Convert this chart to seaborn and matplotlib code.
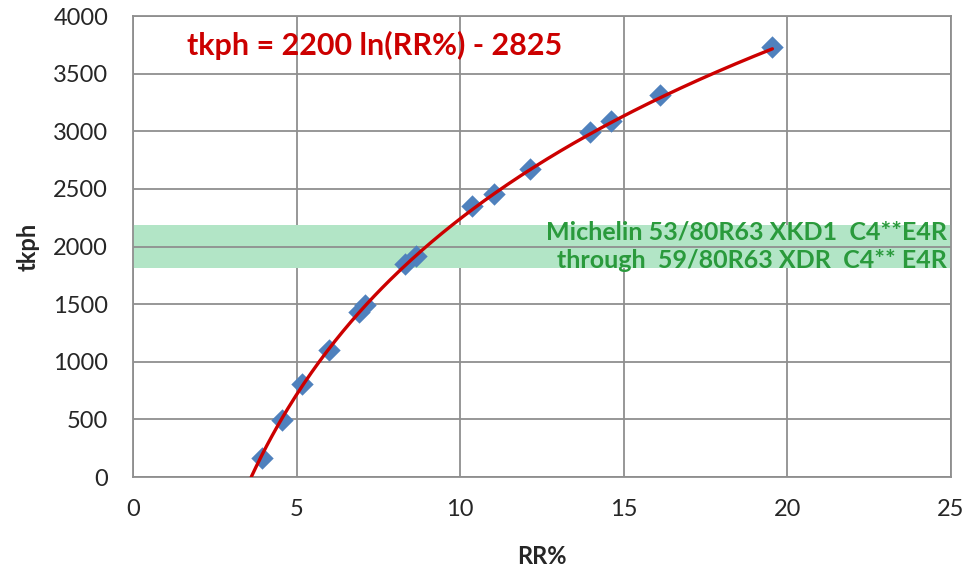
import numpy as np
import pandas as pd
import matplotlib
matplotlib.use("Agg")
import matplotlib.pyplot as plt
import seaborn as sns

# ---- data ----
rr_pct = [3.94, 4.55, 5.17, 5.99, 6.90, 7.08, 8.31, 8.65, 10.35, 11.05, 12.13, 13.97, 14.60, 16.10, 19.55]
tkph = [165, 496, 810, 1106, 1430, 1490, 1850, 1915, 2354, 2456, 2674, 2997, 3092, 3319, 3730]

# trendline shown on the chart: tkph = 2200 ln(RR%) - 2825
trend_a = 2200
trend_b = -2825

band_low, band_high = 1810, 2190
band_lines = ["Michelin 53/80R63 XKD1  C4**E4R", "through  59/80R63 XDR  C4** E4R"]
equation_text = "tkph = 2200 ln(RR%) - 2825"
x_ticks = [0, 5, 10, 15, 20, 25]
y_ticks = [0, 500, 1000, 1500, 2000, 2500, 3000, 3500, 4000]

sns.set_style("white")
plt.rcParams['font.family'] = ['Lato', 'DejaVu Sans']

fig = plt.figure(figsize=(9.79, 5.73), dpi=100)
ax = fig.add_axes([0.136, 0.1675, 0.835, 0.8045])

grid_c = "#8f8f8f"
ax.set_xlim(0, 25)
ax.set_ylim(0, 4000)
ax.set_xticks(x_ticks)
ax.set_yticks(y_ticks)
ax.grid(True, color=grid_c, linewidth=1.3, zorder=0)
ax.set_axisbelow(True)
for s in ax.spines.values():
    s.set_color(grid_c)
    s.set_linewidth(1.3)
ax.tick_params(axis='both', which='major', direction='out', length=7, width=1.3,
               color=grid_c, labelsize=17, labelcolor="#262626")
ax.tick_params(axis='x', pad=9)
ax.tick_params(axis='y', pad=11)

# green band
ax.axhspan(band_low, band_high, color="#b2e5c6", zorder=1, linewidth=0)
ax.axhline(2000, color=grid_c, linewidth=1.3, zorder=1.5)

# data points
df = pd.DataFrame({"RR%": rr_pct, "tkph": tkph})
sns.scatterplot(data=df, x="RR%", y="tkph", marker="D", s=130, color="#4f81bd",
                edgecolor="#4f81bd", linewidth=0, ax=ax, zorder=3)

# trendline
x0 = np.exp(-trend_b / trend_a)
xs = np.linspace(x0, max(rr_pct), 200)
trend_df = pd.DataFrame({"RR%": xs, "tkph": trend_a * np.log(xs) + trend_b})
sns.lineplot(data=trend_df, x="RR%", y="tkph", color="#cc0000", linewidth=2.4, ax=ax, zorder=4)

ax.set_xlabel("RR%", fontsize=17, fontweight="bold", color="#262626", labelpad=18)
ax.set_ylabel("tkph", fontsize=17, fontweight="bold", color="#262626", labelpad=10)

ax.text(7.4, 3745, equation_text, color="#cc0000", fontsize=22, fontweight="bold",
        ha="center", va="center", zorder=5)
ax.text(24.9, 2125, band_lines[0], color="#2a9a3c", fontsize=18, fontweight="bold",
        ha="right", va="center", zorder=5)
ax.text(24.9, 1880, band_lines[1], color="#2a9a3c", fontsize=18, fontweight="bold",
        ha="right", va="center", zorder=5)

fig.savefig("out.png", dpi=100)
